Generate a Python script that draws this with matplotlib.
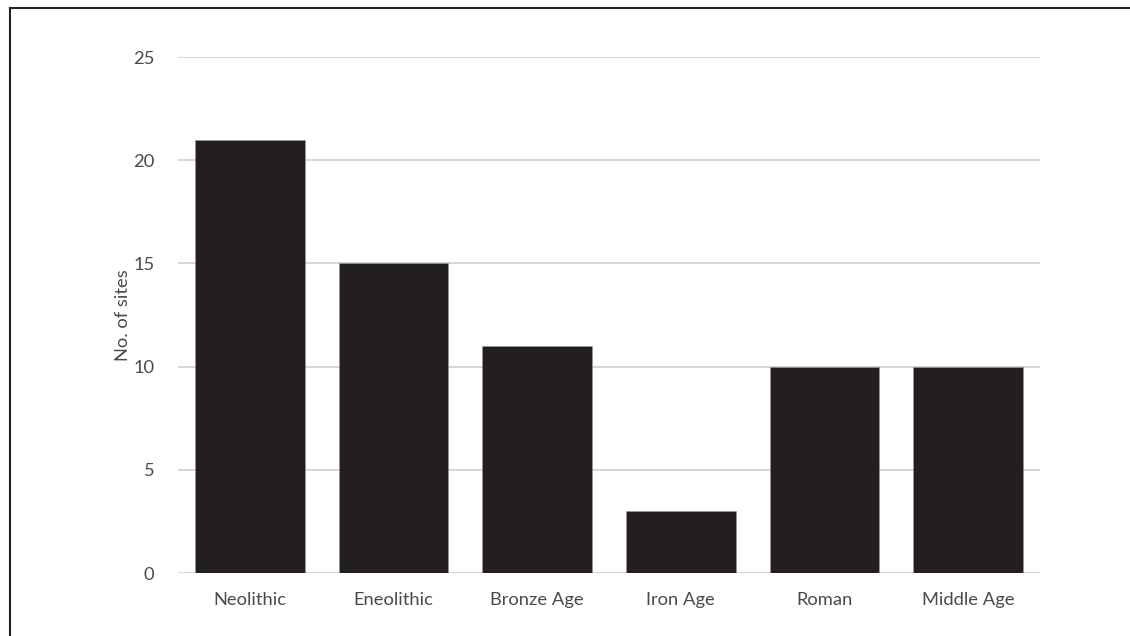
import matplotlib
matplotlib.use('Agg')
from matplotlib import pyplot as plt
from matplotlib.lines import Line2D

periods = ['Neolithic', 'Eneolithic', 'Bronze Age', 'Iron Age', 'Roman', 'Middle Age']
sites = [21, 15, 11, 3, 10, 10]
yticks = [0, 5, 10, 15, 20, 25]

plt.rcParams['font.family'] = ['Lato', 'DejaVu Sans']
txt = '#4a4a4a'

fig = plt.figure(figsize=(11.3, 6.36), dpi=100)
ax = fig.add_axes([178/1130, 1 - 573/636, (1040 - 178)/1130, (573 - 57)/636])

x = range(len(periods))
ax.bar(x, sites, width=0.765, color='#231f20', edgecolor='#9a9a9a', linewidth=0.4, zorder=3)

ax.set_xlim(-0.5, len(periods) - 0.5)
ax.set_ylim(0, 25)
ax.set_yticks(yticks)
ax.set_xticks(list(x))
ax.set_xticklabels(periods)
ax.tick_params(axis='both', length=0, labelsize=13.2, labelcolor=txt)
ax.tick_params(axis='y', pad=17)
ax.tick_params(axis='x', pad=14)
ax.yaxis.grid(True, color='#d0d0d0', linewidth=1.2, zorder=0)
for sp in ax.spines.values():
  sp.set_visible(False)
ax.set_ylabel('No. of sites', fontsize=13.2, color=txt)
ax.yaxis.set_label_coords(-0.054, 0.5)

# frame round the figure (top and left only visible)
fig.add_artist(Line2D([10/1130, 1], [1 - 8/636, 1 - 8/636], color='#222222', linewidth=1.5))
fig.add_artist(Line2D([10/1130, 10/1130], [0, 1 - 8/636], color='#222222', linewidth=1.5))

fig.savefig('out.png', dpi=100)
